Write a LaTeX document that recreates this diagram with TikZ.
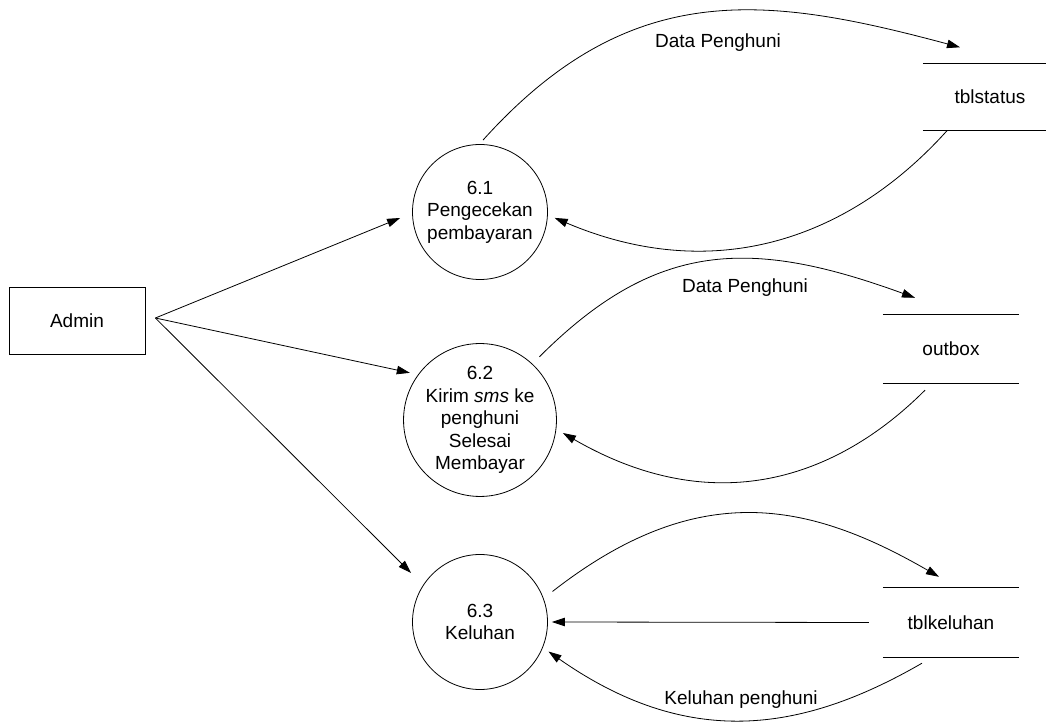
\documentclass[tikz,border=0pt]{standalone}
\usepackage{fontspec}
\setmainfont{Liberation Sans}
\usetikzlibrary{arrows.meta, positioning}
\tikzset{
  flowArrow/.style={-{Triangle[length=13pt, width=8.5pt]}, line width=0.8pt},
  procCircle/.style={circle, draw, line width=0.8pt, minimum size=135pt,
                     inner sep=0pt, align=center},
  extBox/.style={rectangle, draw, line width=0.8pt, minimum width=136pt,
                 minimum height=67pt},
  storeBox/.style={rectangle, inner sep=0pt, minimum width=136pt, minimum height=68pt},
  storeLine/.style={line width=1pt},
  flowLabel/.style={inner sep=1pt},
}

\begin{document}
\begin{tikzpicture}[x=1pt, y=1pt, font=\fontsize{19}{22.5}\selectfont]
    \useasboundingbox (0,0) rectangle (1046,722);
    % entitas luar dan proses
    \node[extBox] (admin) at (77,401) {Admin};
    \node[procCircle] (p61) at (480,510) {6.1\\Pengecekan\\pembayaran};
    \node[procCircle] (p62) at (480,302) {6.2\\Kirim \textit{sms} ke\\penghuni\\Selesai\\Membayar};
    \node[procCircle] (p63) at (480,100) {6.3\\Keluhan};
    % data store
    \node[storeBox, minimum width=134pt, minimum height=67pt] (stat) at (990,625) {tblstatus};
    \node[storeBox] (outb) at (951,373) {outbox};
    \node[storeBox, minimum height=69pt] (kel) at (951,99.5) {tblkeluhan};
    \foreach \s in {stat, outb, kel} {
      \draw[storeLine] (\s.north west) -- (\s.north east);
      \draw[storeLine] (\s.south west) -- (\s.south east);
    }
    % alur dari admin
    \coordinate (admOut) at ([shift={(10,3)}]admin.east);
    \draw[flowArrow] (admOut) -- ([shift={(-12,-6)}]p61.west);
    \draw[flowArrow] (admOut) -- ([shift={(-8,2)}]p62.144);
    \draw[flowArrow] (admOut) -- ([shift={(-12,12)}]p63.147);
    % alur ke dan dari data store
    \draw[flowArrow] ([shift={(3,4)}]p61.north) to[out=48, in=165,
      out distance=220pt, in distance=200pt] ([shift={(-30,16)}]stat.north);
    \draw[flowArrow] ([xshift=-43]stat.south) to[out=228, in=-23,
      out distance=150pt, in distance=170pt] ([xshift=7]p61.355);
    \draw[flowArrow] ([shift={(7,7)}]p62.47) to[out=45, in=160,
      out distance=165pt, in distance=175pt] ([shift={(-36,17)}]outb.north);
    \draw[flowArrow] ([shift={(-26,-7)}]outb.south) to[out=225, in=-30,
      out distance=125pt, in distance=175pt] ([shift={(7,-1)}]p62.351);
    \draw[flowArrow] ([shift={(10,4)}]p63.23) to[out=38, in=150,
      out distance=185pt, in distance=150pt] ([shift={(-12,11)}]kel.north);
    \draw[flowArrow] ([xshift=-14]kel.west) -- ([xshift=4]p63.east);
    \draw[flowArrow] ([shift={(-29,-6)}]kel.south) to[out=210, in=-35,
      out distance=140pt, in distance=170pt] ([shift={(6,-3)}]p63.337);
    % label alur
    \node[flowLabel] (lblData1) at (718,679) {Data Penghuni};
    \node[flowLabel] (lblData2) at (745,434) {Data Penghuni};
    \node[flowLabel] (lblKeluhan) at (741,22) {Keluhan penghuni};
\end{tikzpicture}
\end{document}
